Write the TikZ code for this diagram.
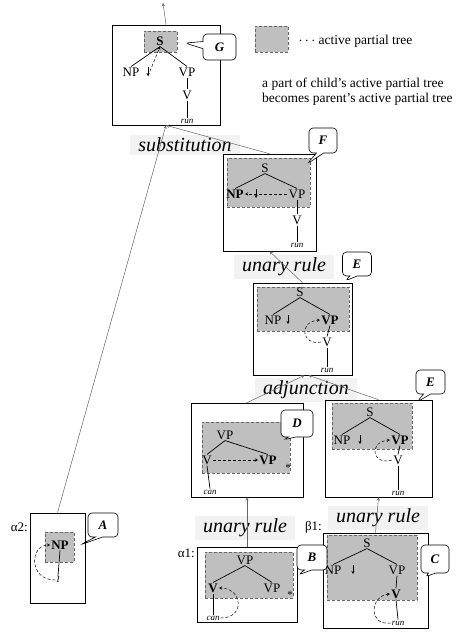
\documentclass[tikz,border=0pt]{standalone}
\usepackage{fontspec}
\setmainfont{Liberation Serif}
\usetikzlibrary{shapes.callouts,arrows.meta}

\tikzset{
  frame/.style={draw, line width=0.6pt, inner sep=0pt},
  apt/.style={draw=black!60, densely dashed, line width=0.4pt, fill=gray!50, inner sep=0pt},
  cat/.style={font=\fontsize{13}{13}\selectfont, inner sep=1pt},
  word/.style={font=\fontsize{9}{9}\selectfont\itshape, inner sep=1pt},
  foot/.style={font=\fontsize{11}{11}\selectfont, inner sep=0pt},
  op/.style={font=\fontsize{20}{20}\selectfont\itshape, fill=gray!10, inner xsep=8pt, inner ysep=3pt},
  bubble/.style={rectangle callout, draw, rounded corners=4pt, fill=white, line width=0.6pt,
    font=\fontsize{13}{13}\selectfont\bfseries\itshape, inner sep=0pt},
  link/.style={->, draw=black!60, line width=0.5pt},
  back/.style={->, densely dashed, line width=0.5pt},
  slot/.style={-{Stealth[length=3pt,width=3pt]}, line width=0.6pt},
  branch/.style={line width=0.7pt}
}

\begin{document}
\begin{tikzpicture}[x=1pt, y=-1pt, >=stealth]
    \useasboundingbox (0,0) rectangle (456,632);

    % operation labels
    \node[op] (subst) at (185,145) {substitution};
    \node[op] (unF) at (284,267) {unary rule};
    \node[op] (adj) at (306,390) {adjunction};
    \node[op] (unD) at (245,528) {unary rule};
    \node[op] (unE) at (378,518) {unary rule};

    % frames of the derivation
    \node[frame, minimum width=108, minimum height=100] (boxG) at (166,75) {};
    \node[frame, minimum width=93, minimum height=97] (boxF) at (269.5,202.5) {};
    \node[frame, minimum width=99, minimum height=92] (boxE) at (302.5,329) {};
    \node[frame, minimum width=112, minimum height=94] (boxD) at (247,450) {};
    \node[frame, minimum width=107, minimum height=97] (boxEr) at (378.5,448.5) {};
    \node[frame, minimum width=100, minimum height=75] (boxB) at (247,584.5) {};
    \node[frame, minimum width=105, minimum height=95] (boxC) at (375.5,580.5) {};
    \node[frame, minimum width=55, minimum height=90] (boxA) at (57.5,558) {};

    % active partial trees
    \node[apt, minimum width=33, minimum height=21] (aptG) at (160.5,41.5) {};
    \node[apt, minimum width=83, minimum height=49] (aptF) at (268.5,182.5) {};
    \node[apt, minimum width=92, minimum height=44] (aptE) at (303,309) {};
    \node[apt, minimum width=88, minimum height=51] (aptD) at (246,447.5) {};
    \node[apt, minimum width=80, minimum height=46] (aptEr) at (372,426) {};
    \node[apt, minimum width=88, minimum height=46] (aptB) at (249,575) {};
    \node[apt, minimum width=90, minimum height=65] (aptC) at (372,567.5) {};
    \node[apt, minimum width=29, minimum height=30] (aptA) at (59.5,547) {};

    % derivation steps
    \coordinate (out) at (163,3);
    \draw[link] (boxG.north) -- (out);
    \draw[link] (boxA.north) -- (boxG.south);
    \draw[link] (boxF.north) -- (boxG.south);
    \draw[link] (boxE.north) -- (boxF.south);
    \draw[link] (boxD.north) -- ([xshift=2]boxE.south);
    \draw[link] (boxEr.north) -- ([xshift=6]boxE.south);
    \draw[link] (boxB.north) -- (boxD.south);
    \draw[link] (boxC.north) -- (boxEr.south);

    % legend
    \node[apt, minimum width=33, minimum height=26] (key) at (271.5,39) {};
    \node[anchor=west, font=\fontsize{13.5}{14}\selectfont] (keytxt) at (295,41)
        {$\cdots$ active partial tree};
    \node[anchor=west, font=\fontsize{13.5}{15}\selectfont, align=left, inner sep=0pt] (note) at (262,92)
        {a part of child's active partial tree\\becomes parent's active partial tree};

    % G
    \node[cat] (gS) at (160,41) {\textbf{S}};
    \node[cat] (gNP) at (131,72) {NP};
    \node[cat] (gVP) at (187,72) {VP};
    \node[cat] (gV) at (187,95) {V};
    \node[word] (grun) at (187,121) {run};
    \draw[branch] (gS.south) -- (gNP.north);
    \draw[branch] (gS.south) -- (gVP.north);
    \draw[branch] (gVP.south) -- (gV.north);
    \draw[branch] (gV.south) -- (grun.north);
    \draw[slot] (148,67) -- (148,76);
    \coordinate (gslot) at (148,76);
    \draw[back] (gslot) -- (gS.south);

    % F
    \node[cat] (fS) at (265,168) {S};
    \node[cat] (fNP) at (235,194) {\textbf{NP}};
    \node[cat] (fVP) at (297,194) {VP};
    \node[cat] (fV) at (297,220) {V};
    \node[word] (frun) at (297,245) {run};
    \draw[branch] (fS.south) -- (fNP.north);
    \draw[branch] (fS.south) -- (fVP.north);
    \draw[branch] (fVP.south) -- (fV.north);
    \draw[branch] (fV.south) -- (frun.north);
    \draw[slot] (256,189) -- (256,198);
    \draw[back] (fVP.west) -- (fNP.east);

    % E (middle)
    \node[cat] (eS) at (300,292) {S};
    \node[cat] (eNP) at (273,320) {NP};
    \node[cat] (eVP) at (330,320) {\textbf{VP}};
    \node[cat] (eV) at (327,342) {V};
    \node[word] (erun) at (327,370) {run};
    \draw[branch] (eS.south) -- (eNP.north);
    \draw[branch] (eS.south) -- (eVP.north);
    \draw[branch] (eVP.south) -- (eV.north);
    \draw[branch] (eV.south) -- (erun.north);
    \draw[slot] (288,315) -- (288,324);
    \draw[back] (eV.west) .. controls (302,346) and (298,322) .. (eVP.west);

    % D
    \node[cat] (dVP) at (225,435) {VP};
    \node[cat] (dV) at (207,460) {V};
    \node[cat] (dVPf) at (268,460) {\textbf{VP}};
    \node[foot] (dstar) at (288,468) {*};
    \node[word] (dcan) at (210,492) {can};
    \draw[branch] (dVP.south) -- (dV.north);
    \draw[branch] (dVP.south) -- (dVPf.north);
    \draw[branch] (dV.south) -- (dcan.north);
    \draw[back] (dV.east) -- (dVPf.west);

    % E (right)
    \node[cat] (rS) at (370,412) {S};
    \node[cat] (rNP) at (342,440) {NP};
    \node[cat] (rVP) at (400,440) {\textbf{VP}};
    \node[cat] (rV) at (398,460) {V};
    \node[word] (rrun) at (398,493) {run};
    \draw[branch] (rS.south) -- (rNP.north);
    \draw[branch] (rS.south) -- (rVP.north);
    \draw[branch] (rVP.south) -- (rV.north);
    \draw[branch] (rV.south) -- (rrun.north);
    \draw[slot] (360,435) -- (360,444);
    \draw[back] (rV.west) .. controls (372,466) and (368,442) .. (rVP.west);

    % alpha1
    \node[anchor=east, cat] (lblB) at (196,553) {α1:};
    \node[cat] (bVP) at (245,560) {VP};
    \node[cat] (bV) at (213,588) {\textbf{V}};
    \node[cat] (bVPf) at (272,588) {VP};
    \node[foot] (bstar) at (290,595) {*};
    \node[word] (bcan) at (213,618) {can};
    \draw[branch] (bVP.south) -- (bV.north);
    \draw[branch] (bVP.south) -- (bVPf.north);
    \draw[branch] (bV.south) -- (bcan.north);
    \draw[back] (bcan.east) .. controls (246,618) and (242,588) .. (bV.east);

    % beta1
    \node[anchor=east, cat] (lblC) at (323,527) {β1:};
    \node[cat] (cS) at (367,543) {S};
    \node[cat] (cNP) at (333,570) {NP};
    \node[cat] (cVP) at (397,570) {VP};
    \node[cat] (cV) at (396,594) {\textbf{V}};
    \node[word] (crun) at (398,623) {run};
    \draw[branch] (cS.south) -- (cNP.north);
    \draw[branch] (cS.south) -- (cVP.north);
    \draw[branch] (cVP.south) -- (cV.north);
    \draw[branch] (cV.south) -- (crun.north);
    \draw[slot] (353,565) -- (353,574);
    \draw[back] (crun.west) .. controls (368,626) and (370,596) .. (cV.west);

    % alpha2
    \node[anchor=east, cat] (lblA) at (29,527) {α2:};
    \node[cat] (aNP) at (60,545) {\textbf{NP}};
    \node[word] (aI) at (58,580) {I};
    \draw[branch] (aNP.south) -- (aI.north);
    \draw[back] (aI.west) .. controls (28,580) and (30,545) .. (aNP.west);

    % callouts
    \node[bubble, minimum width=33, minimum height=26, callout absolute pointer={(185,43)}] (cG) at (219.5,47) {G};
    \node[bubble, minimum width=28, minimum height=25, callout absolute pointer={(307,164)}] (cF) at (323,140.5) {F};
    \node[bubble, minimum width=29, minimum height=24, callout absolute pointer={(345,281)}] (cE) at (357,264) {E};
    \node[bubble, minimum width=32, minimum height=27, callout absolute pointer={(283,440)}] (cD) at (297,423.5) {D};
    \node[bubble, minimum width=29, minimum height=24, callout absolute pointer={(417,402)}] (cEr) at (430.5,382) {E};
    \node[bubble, minimum width=30, minimum height=25, callout absolute pointer={(298,575)}] (cB) at (312,557.5) {B};
    \node[bubble, minimum width=28, minimum height=28, callout absolute pointer={(425,577)}] (cC) at (435,559) {C};
    \node[bubble, minimum width=30, minimum height=24, callout absolute pointer={(80,545)}] (cA) at (103,525) {A};
\end{tikzpicture}
\end{document}
